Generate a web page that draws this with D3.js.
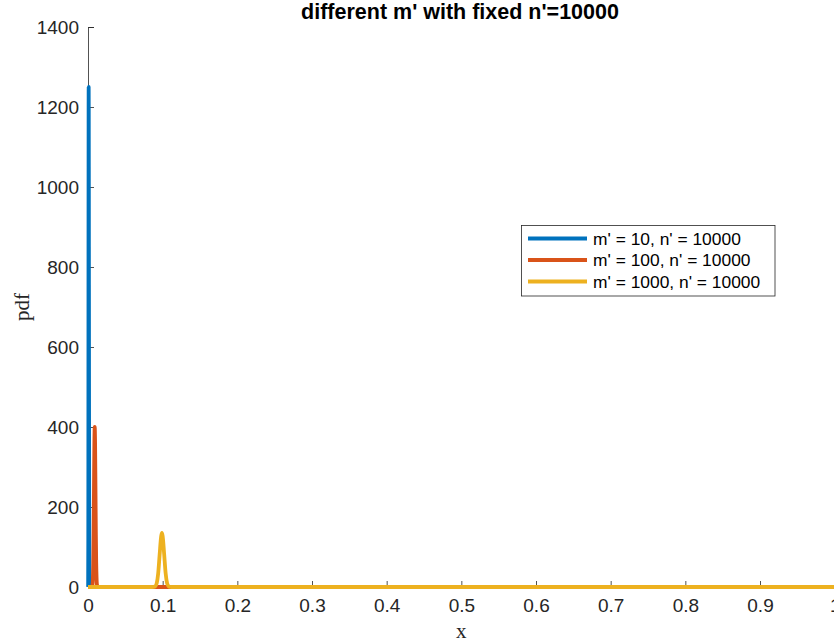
<!DOCTYPE html>
<html>
<head>
<meta charset="utf-8">
<script src="https://cdn.jsdelivr.net/npm/d3@7"></script>
<style>
  html, body { margin: 0; padding: 0; background: #ffffff; overflow: hidden; }
  svg { display: block; }
</style>
</head>
<body>
<svg id="chart" width="834" height="644"></svg>
<script>
// ---- data ----
const seriesNames = ["m' = 10, n' = 10000", "m' = 100, n' = 10000", "m' = 1000, n' = 10000"];
const seriesColors = ["#0072BD", "#D95319", "#EDB120"];

const blueX = [0, 0.0002, 0.0004, 0.0005, 0.0006, 0.0007, 0.0008, 0.0009, 0.001, 0.0011, 0.0012, 0.0014, 0.0016, 0.0018, 0.0021, 0.0025, 0.003, 1];
const blueY = [0, 5, 120, 320, 620, 930, 1160, 1250, 1200, 1050, 850, 470, 210, 80, 18, 2, 0, 0];

const redX = [0, 0.005, 0.006, 0.0065, 0.007, 0.0075, 0.008, 0.0085, 0.009, 0.0095, 0.01, 0.0105, 0.011, 0.0115, 0.012, 0.013, 0.014, 1];
const redY = [0, 0, 5, 18, 55, 132, 245, 355, 400, 358, 250, 138, 60, 22, 6, 1, 0, 0];

const yellowX = [0, 0.086, 0.088, 0.09, 0.092, 0.094, 0.096, 0.098, 0.099, 0.1, 0.102, 0.104, 0.106, 0.108, 0.11, 0.112, 1];
const yellowY = [0, 0, 0.3, 1.5, 9, 34, 82, 127, 135, 127, 82, 34, 9, 1.5, 0.3, 0, 0];

const xTicks = [0, 0.1, 0.2, 0.3, 0.4, 0.5, 0.6, 0.7, 0.8, 0.9, 1];
const yTicks = [0, 200, 400, 600, 800, 1000, 1200, 1400];

const titleText = "different m' with fixed n'=10000";
const xLabelText = "x";
const yLabelText = "pdf";

// ---- layout ----
const svg = d3.select("#chart");
const mLeft = 88, mTop = 27, plotW = 746.67, plotH = 560;
const x = d3.scaleLinear().domain([0, 1]).range([mLeft, mLeft + plotW]);
const y = d3.scaleLinear().domain([0, 1400]).range([mTop + plotH, mTop]);

const axisColor = "#262626";
const sans = "'Liberation Sans', Arial, Helvetica, sans-serif";
const serif = "'Liberation Serif', 'Times New Roman', serif";

// axes
const yAxis = svg.append("g")
  .attr("transform", `translate(${mLeft},0)`)
  .call(d3.axisLeft(y).tickValues(yTicks).tickSize(-6).tickPadding(9).tickFormat(d3.format("d")));
const xAxis = svg.append("g")
  .attr("transform", `translate(0,${mTop + plotH})`)
  .call(d3.axisBottom(x).tickValues(xTicks).tickSize(-6).tickPadding(12).tickFormat(d => d === 0 || d === 1 ? String(d) : d.toFixed(1)));

[yAxis, xAxis].forEach(g => {
  g.select(".domain").attr("stroke", axisColor).attr("stroke-width", 0.8);
  g.selectAll(".tick line").attr("stroke", axisColor).attr("stroke-width", 0.8);
  g.selectAll(".tick text").attr("fill", axisColor).style("font-family", sans).style("font-size", "19px");
});

// series
const seriesData = [
  blueX.map((v, i) => [v, blueY[i]]),
  redX.map((v, i) => [v, redY[i]]),
  yellowX.map((v, i) => [v, yellowY[i]])
];
const line = d3.line().x(d => x(d[0])).y(d => y(d[1])).curve(d3.curveMonotoneX);

svg.append("g").selectAll("path")
  .data(seriesData)
  .join("path")
  .attr("d", line)
  .attr("fill", "none")
  .attr("stroke", (d, i) => seriesColors[i])
  .attr("stroke-width", 3.8)
  .attr("stroke-linejoin", "round");

// title
svg.append("text")
  .attr("x", 460)
  .attr("y", 19)
  .attr("text-anchor", "middle")
  .style("font-family", sans)
  .style("font-weight", "bold")
  .style("font-size", "21.5px")
  .attr("fill", "#000")
  .text(titleText);

// axis labels
svg.append("text")
  .attr("x", mLeft + plotW / 2)
  .attr("y", 638)
  .attr("text-anchor", "middle")
  .style("font-family", serif)
  .style("font-size", "21px")
  .attr("fill", axisColor)
  .text(xLabelText);

svg.append("text")
  .attr("transform", `translate(29,${mTop + plotH / 2}) rotate(-90)`)
  .attr("text-anchor", "middle")
  .style("font-family", serif)
  .style("font-size", "21px")
  .attr("fill", axisColor)
  .text(yLabelText);

// legend
const leg = svg.append("g");
leg.append("rect")
  .attr("x", 521.5).attr("y", 225.5)
  .attr("width", 253.5).attr("height", 70.5)
  .attr("fill", "#fff")
  .attr("stroke", axisColor)
  .attr("stroke-width", 0.8);
const rowY = [238.5, 260, 281.5];
seriesNames.forEach((name, i) => {
  leg.append("line")
    .attr("x1", 528).attr("x2", 587)
    .attr("y1", rowY[i]).attr("y2", rowY[i])
    .attr("stroke", seriesColors[i])
    .attr("stroke-width", 3.8);
  leg.append("text")
    .attr("x", 593)
    .attr("y", rowY[i])
    .attr("dy", "0.35em")
    .style("font-family", sans)
    .style("font-size", "17.4px")
    .attr("fill", "#000")
    .text(name);
});
</script>
</body>
</html>
